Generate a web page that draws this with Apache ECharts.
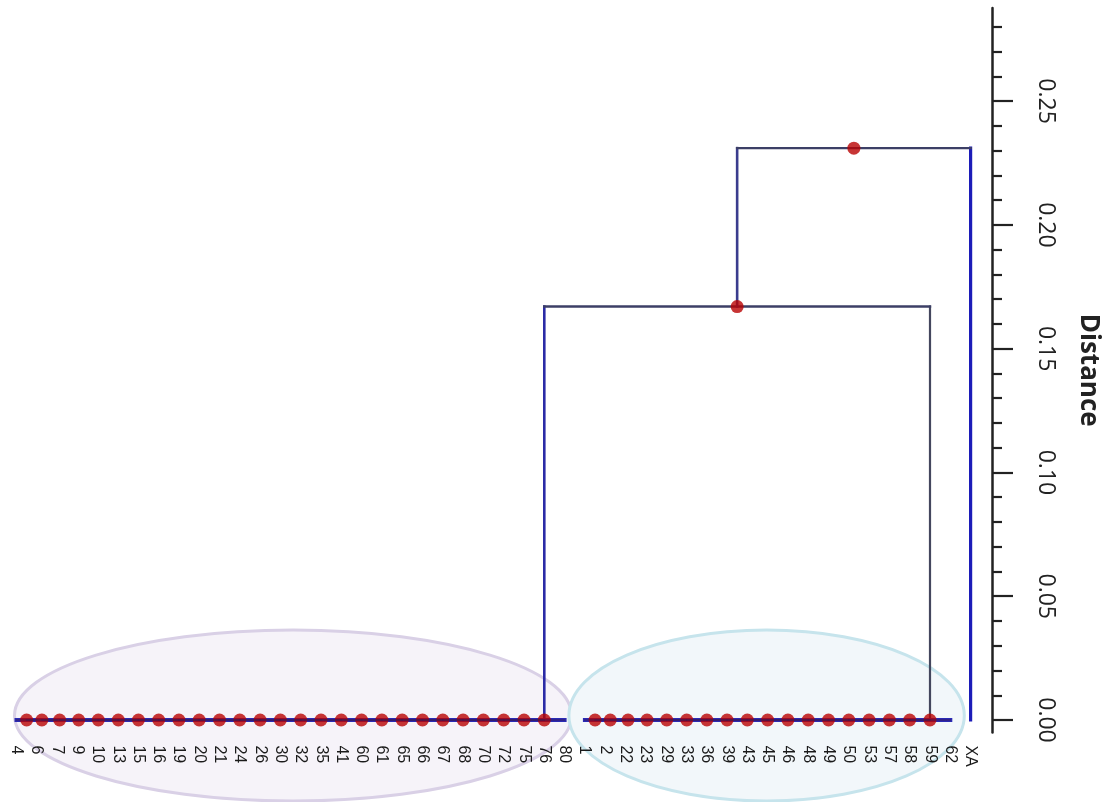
<!DOCTYPE html>
<html>
<head>
<meta charset="utf-8">
<title>Dendrogram</title>
<script src="https://cdn.jsdelivr.net/npm/echarts@6/dist/echarts.min.js"></script>
<style>
  html, body { margin: 0; padding: 0; background: #ffffff; }
  #chart { width: 1104px; height: 802px; }
</style>
</head>
<body>
<div id="chart"></div>
<script>
// Leaves of the two main clusters and the outgroup, in drawing order
const clusterA = ['4','6','7','9','10','13','15','16','19','20','21','24','26','30','32','35','41','60','61','65','66','67','68','70','72','75','76','80'];
const clusterB = ['1','2','22','23','29','33','36','39','43','45','46','48','49','50','53','57','58','59','62'];
const outgroup = ['XA'];

// Fusion distances
const distWithinA = 0;
const distWithinB = 0;
const distAB = 0.167;
const distRoot = 0.231;

// Distance axis
const distMin = -0.005;
const distMax = 0.2876;
const majorTicks = [0, 0.05, 0.10, 0.15, 0.20, 0.25];
const minorTicks = [0.01,0.02,0.03,0.04,0.06,0.07,0.08,0.09,0.11,0.12,0.13,0.14,0.16,0.17,0.18,0.19,0.21,0.22,0.23,0.24,0.26,0.27,0.28];

const leafLabels = clusterA.concat(clusterB, outgroup);

// ---- build the tree (positions in leaf-index units, heights in distance) ----
const links = [];   // [x1, y1, x2, y2, role]
const nodes = [];   // [x, h]
function leaf(name) { return { x: leafLabels.indexOf(name), h: 0 }; }
function merge(a, b, h, roleA, roleB, roleH) {
  if (h > a.h) links.push([a.x, a.h, a.x, h, roleA]);
  if (h > b.h) links.push([b.x, b.h, b.x, h, roleB]);
  links.push([a.x, h, b.x, h, roleH]);
  const n = { x: (a.x + b.x) / 2, h: h };
  nodes.push([n.x, n.h]);
  return n;
}
function chain(names, h) {
  let node = leaf(names[0]);
  for (let i = 1; i < names.length; i++) node = merge(node, leaf(names[i]), h, 'base', 'base', 'base');
  return node;
}
const nodeA = chain(clusterA, distWithinA);
const nodeB = chain(clusterB, distWithinB);
const nodeAB = merge(nodeA, nodeB, distAB, 'blue', 'slate', 'dark');
merge(nodeAB, leaf(outgroup[0]), distRoot, 'blueSoft', 'blueBright', 'dark');

const roleStyle = {
  base:       { stroke: '#2a2ab4', lineWidth: 4 },
  blue:       { stroke: '#2b2ba6', lineWidth: 2.6 },
  slate:      { stroke: '#44475e', lineWidth: 2.2 },
  dark:       { stroke: '#3c3f66', lineWidth: 2.4 },
  blueSoft:   { stroke: '#3a3d8e', lineWidth: 2.6 },
  blueBright: { stroke: '#1c1cb8', lineWidth: 3.2 }
};
const overlayStyle = { stroke: '#3a1850', lineWidth: 1.4, opacity: 0.55 };

const upperLinks = links.filter(l => l[4] !== 'base');
const baseLinks = links.filter(l => l[4] === 'base');

function linkRenderer(list, overlay) {
  return function (params, api) {
    const p1 = api.coord([api.value(0), api.value(1)]);
    const p2 = api.coord([api.value(2), api.value(3)]);
    const st = overlay ? overlayStyle : roleStyle[list[params.dataIndex][4]];
    return {
      type: 'line',
      shape: { x1: p1[0], y1: p1[1], x2: p2[0], y2: p2[1] },
      style: { stroke: st.stroke, lineWidth: st.lineWidth, opacity: st.opacity == null ? 1 : st.opacity, lineCap: 'square' },
      silent: true
    };
  };
}

const chart = echarts.init(document.getElementById('chart'), null, { renderer: 'canvas' });

const gridLayout = { left: 6.35, right: 123.25, top: 8, bottom: 69.6, containLabel: false, outerBoundsMode: 'none' };
const axisOffset = 11.25;
const inkColor = '#222222';

chart.setOption({
  animation: false,
  backgroundColor: '#ffffff',
  // grid 0 carries the tree and the major ticks, grid 1 (same box) the minor ticks
  grid: [
    Object.assign({}, gridLayout),
    Object.assign({}, gridLayout)
  ],
  xAxis: [
    {
      type: 'category',
      gridIndex: 0,
      data: leafLabels,
      boundaryGap: true,
      axisLine: { show: false, onZero: false },
      axisTick: { show: false },
      splitLine: { show: false },
      axisLabel: {
        interval: 0,
        rotate: -90,
        margin: 13,
        fontSize: 16,
        fontFamily: 'Liberation Sans, Arial, sans-serif',
        color: '#1a1a1a'
      }
    },
    {
      type: 'value',
      gridIndex: 0,
      min: -0.5,
      max: leafLabels.length - 0.5,
      axisLine: { onZero: false },
      show: false
    },
    {
      type: 'value',
      gridIndex: 1,
      min: 0,
      max: 1,
      axisLine: { onZero: false },
      show: false
    }
  ],
  yAxis: [
    {
      type: 'value',
      gridIndex: 0,
      position: 'right',
      offset: axisOffset,
      min: distMin,
      max: distMax,
      name: 'Distance',
      nameLocation: 'middle',
      nameRotate: -90,
      nameGap: 83,
      nameTextStyle: { fontSize: 26, fontWeight: 'bold', color: inkColor, fontFamily: 'Open Sans, sans-serif' },
      axisLine: { show: true, onZero: false, lineStyle: { color: inkColor, width: 2.5 } },
      axisTick: { show: true, inside: false, length: 21, customValues: majorTicks, lineStyle: { color: inkColor, width: 2.2 } },
      axisLabel: {
        show: true,
        customValues: majorTicks,
        rotate: -90,
        margin: 42,
        fontSize: 23,
        fontFamily: 'Open Sans, sans-serif',
        color: inkColor,
        formatter: v => v.toFixed(2)
      },
      splitLine: { show: false }
    },
    {
      type: 'value',
      gridIndex: 1,
      position: 'right',
      offset: axisOffset,
      min: distMin,
      max: distMax,
      axisLine: { show: false, onZero: false },
      axisTick: { show: true, inside: false, length: 10, customValues: minorTicks, lineStyle: { color: inkColor, width: 2.2 } },
      axisLabel: { show: false },
      splitLine: { show: false }
    }
  ],
  series: [
    {
      type: 'custom',
      name: 'branches',
      xAxisIndex: 1,
      yAxisIndex: 0,
      z: 2,
      renderItem: linkRenderer(upperLinks, false),
      data: upperLinks.map(l => l.slice(0, 4))
    },
    {
      type: 'custom',
      name: 'base',
      xAxisIndex: 1,
      yAxisIndex: 0,
      z: 2,
      renderItem: linkRenderer(baseLinks, false),
      data: baseLinks.map(l => l.slice(0, 4))
    },
    {
      type: 'scatter',
      name: 'nodes',
      xAxisIndex: 1,
      yAxisIndex: 0,
      z: 3,
      symbol: 'circle',
      symbolSize: 13,
      itemStyle: { color: '#b90202' },
      silent: true,
      data: nodes
    },
    {
      type: 'custom',
      name: 'baseOverlay',
      xAxisIndex: 1,
      yAxisIndex: 0,
      z: 4,
      renderItem: linkRenderer(baseLinks, true),
      data: baseLinks.map(l => l.slice(0, 4))
    }
  ]
});

// Group outlines around the two clusters
function px(i, h) { return chart.convertToPixel({ xAxisIndex: 1, yAxisIndex: 0 }, [i, h]); }
function groupEllipse(names, padLeft, padRight, fill, stroke) {
  const i0 = leafLabels.indexOf(names[0]);
  const i1 = leafLabels.indexOf(names[names.length - 1]);
  const p0 = px(i0, 0), p1 = px(i1, 0);
  const left = p0[0] - padLeft, right = p1[0] + padRight;
  return {
    type: 'ellipse',
    z: -10,
    silent: true,
    shape: { cx: (left + right) / 2, cy: p0[1] - 4.5, rx: (right - left) / 2, ry: 85.5 },
    style: { fill: fill, stroke: stroke, lineWidth: 3 }
  };
}
chart.setOption({
  graphic: [
    groupEllipse(clusterA, 2, 7, '#f6f3f9', '#d9d0e6'),
    groupEllipse(clusterB, 16, 14, '#f2f7fa', '#c6e4ec')
  ]
});
</script>
</body>
</html>
